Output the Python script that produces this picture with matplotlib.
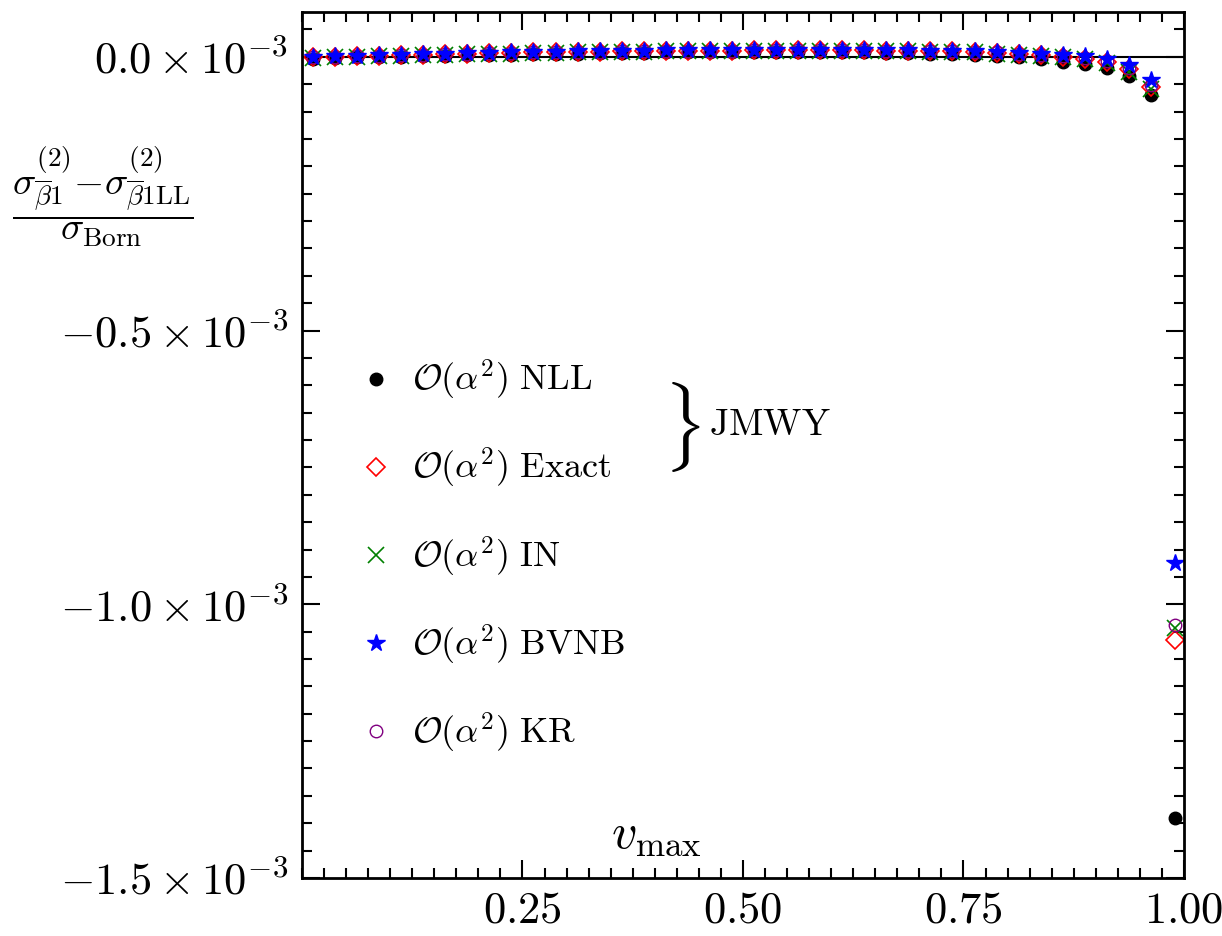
import matplotlib
matplotlib.use("Agg")
import matplotlib.pyplot as plt
from matplotlib.ticker import MultipleLocator, FixedLocator, FuncFormatter

plt.rcParams['mathtext.fontset'] = 'cm'
plt.rcParams['font.family'] = 'serif'
plt.rcParams['font.serif'] = ['cmr10', 'DejaVu Serif']

# v_max values
v = [0.0125, 0.0375, 0.0625, 0.0875, 0.1125, 0.1375, 0.1625, 0.1875, 0.2125, 0.2375,
     0.2625, 0.2875, 0.3125, 0.3375, 0.3625, 0.3875, 0.4125, 0.4375, 0.4625, 0.4875,
     0.5125, 0.5375, 0.5625, 0.5875, 0.6125, 0.6375, 0.6625, 0.6875, 0.7125, 0.7375,
     0.7625, 0.7875, 0.8125, 0.8375, 0.8625, 0.8875, 0.9125, 0.9375, 0.9625, 0.99]

# values in units of 1e-3
y_nll = [-0.003, -0.002, -0.001, 0.000, 0.000, 0.001, 0.002, 0.003, 0.0035, 0.004,
         0.005, 0.0055, 0.006, 0.0065, 0.007, 0.0075, 0.008, 0.008, 0.0085, 0.0085,
         0.009, 0.009, 0.009, 0.009, 0.0085, 0.008, 0.0075, 0.007, 0.006, 0.005,
         0.004, 0.002, 0.000, -0.004, -0.0095, -0.013, -0.021, -0.035, -0.070, -1.390]
y_exact = [-0.001, 0.000, 0.001, 0.002, 0.003, 0.004, 0.005, 0.006, 0.0065, 0.007,
           0.008, 0.0085, 0.009, 0.0095, 0.010, 0.0105, 0.011, 0.011, 0.0115, 0.0115,
           0.012, 0.012, 0.012, 0.012, 0.012, 0.012, 0.0115, 0.011, 0.0105, 0.010,
           0.009, 0.007, 0.005, 0.003, 0.000, -0.004, -0.010, -0.022, -0.055, -1.065]
y_in = [-0.002, -0.001, 0.000, 0.001, 0.002, 0.003, 0.004, 0.005, 0.0055, 0.006,
        0.007, 0.0075, 0.008, 0.0085, 0.009, 0.0095, 0.010, 0.010, 0.0105, 0.0105,
        0.011, 0.011, 0.011, 0.011, 0.011, 0.011, 0.0105, 0.010, 0.0095, 0.009,
        0.008, 0.006, 0.004, 0.002, -0.001, -0.004, -0.012, -0.027, -0.058, -1.043]
y_bvnb = [0.000, 0.001, 0.002, 0.003, 0.004, 0.005, 0.006, 0.007, 0.0075, 0.008,
          0.009, 0.0095, 0.010, 0.0105, 0.011, 0.0115, 0.012, 0.012, 0.0125, 0.0125,
          0.013, 0.013, 0.013, 0.013, 0.013, 0.013, 0.0125, 0.012, 0.0115, 0.011,
          0.010, 0.009, 0.007, 0.006, 0.004, 0.001, -0.004, -0.015, -0.042, -0.924]
y_kr = [-0.001, 0.000, 0.001, 0.002, 0.003, 0.004, 0.005, 0.006, 0.0065, 0.007,
        0.008, 0.0085, 0.009, 0.0095, 0.010, 0.0105, 0.011, 0.011, 0.0115, 0.0115,
        0.012, 0.012, 0.012, 0.012, 0.012, 0.012, 0.0115, 0.011, 0.0105, 0.010,
        0.009, 0.008, 0.006, 0.004, 0.001, -0.002, -0.008, -0.020, -0.052, -1.037]

labels = [r'$\mathcal{O}(\alpha^2)\ \mathrm{NLL}$',
          r'$\mathcal{O}(\alpha^2)\ \mathrm{Exact}$',
          r'$\mathcal{O}(\alpha^2)\ \mathrm{IN}$',
          r'$\mathcal{O}(\alpha^2)\ \mathrm{BVNB}$',
          r'$\mathcal{O}(\alpha^2)\ \mathrm{KR}$']

fig = plt.figure(figsize=(12.22, 9.36), dpi=100)
ax = fig.add_axes([0.2471, 0.0620, 0.7218, 0.9252])

ax.axhline(0, color='black', linewidth=1.5, zorder=1)

h_nll, = ax.plot(v, y_nll, 'o', color='black', markersize=9, linestyle='none', label=labels[0])
h_exact, = ax.plot(v, y_exact, 'D', color='red', markerfacecolor='none', markersize=9,
                   markeredgewidth=1.2, linestyle='none', label=labels[1])
h_in, = ax.plot(v, y_in, 'x', color='green', markersize=12, markeredgewidth=1.2,
                linestyle='none', label=labels[2])
h_kr, = ax.plot(v, y_kr, 'o', color='purple', markerfacecolor='none', markersize=9,
                markeredgewidth=1.0, linestyle='none', label=labels[4])
h_bvnb, = ax.plot(v, y_bvnb, '*', color='blue', markersize=13, linestyle='none', label=labels[3])

ax.set_xlim(0, 1.0)
ax.set_ylim(-1.5, 0.082)

ax.xaxis.set_major_locator(FixedLocator([0.25, 0.5, 0.75, 1.0]))
ax.xaxis.set_minor_locator(MultipleLocator(0.025))
ax.xaxis.set_major_formatter(FuncFormatter(lambda x, p: r'$%.2f$' % x))
ax.yaxis.set_major_locator(FixedLocator([0.0, -0.5, -1.0, -1.5]))
ax.yaxis.set_minor_locator(MultipleLocator(0.05))
ax.yaxis.set_major_formatter(FuncFormatter(lambda y, p: r'$%.1f \times 10^{-3}$' % y))

ax.tick_params(which='both', direction='in', top=True, right=True, width=1.5)
ax.tick_params(which='major', length=13, labelsize=32, pad=10)
ax.tick_params(which='minor', length=7)
for s in ax.spines.values():
    s.set_linewidth(2)

ax.set_xlabel(r'$v_{\mathrm{max}}$', fontsize=36, va='center')
ax.xaxis.set_label_coords(0.402, 0.05)
ax.set_ylabel(r'$\dfrac{\sigma^{(2)}_{\overline{\beta}1}{-}\sigma^{(2)}_{\overline{\beta}1\mathrm{LL}}}{\sigma_{\mathrm{Born}}}$',
              fontsize=28, rotation=0, ha='center', va='center')
ax.yaxis.set_label_coords(-0.226, 0.787)

ax.legend(handles=[h_nll, h_exact, h_in, h_bvnb, h_kr], loc='upper left',
          bbox_to_anchor=(0.0635, 0.600), frameon=False, fontsize=26,
          labelspacing=1.22, handletextpad=0.5, handlelength=1.0, borderpad=0,
          borderaxespad=0)

ax.text(0.431, 0.521, r'$\}$', transform=ax.transAxes, fontsize=54,
        ha='center', va='center')
ax.text(0.461, 0.523, r'$\mathrm{JMWY}$', transform=ax.transAxes, fontsize=27,
        ha='left', va='center')

fig.savefig('out.png', dpi=100)
